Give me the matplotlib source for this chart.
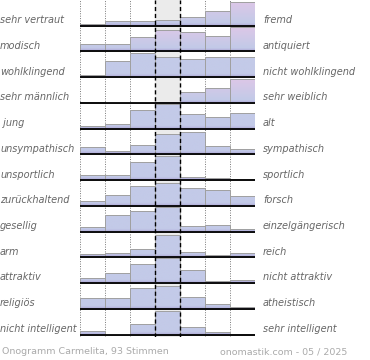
import numpy as np
import matplotlib.pyplot as plt
from matplotlib.colors import to_rgb

# Begriffspaare (links / rechts)
links = ['sehr vertraut', 'modisch', 'wohlklingend', 'sehr männlich', ' jung',
         'unsympathisch', 'unsportlich', 'zurückhaltend', 'gesellig', 'arm',
         'attraktiv', 'religiös', 'nicht intelligent']
rechts = ['fremd', 'antiquiert', 'nicht wohlklingend', 'sehr weiblich', 'alt',
          'sympathisch', 'sportlich', 'forsch', 'einzelgängerisch', 'reich',
          'nicht attraktiv', 'atheistisch', 'sehr intelligent']

# relative Häufigkeiten der 7 Stufen je Zeile
werte = [
    [1.3, 4.7, 4.7, 5.7, 9.0, 15.3, 24.0],
    [7.7, 7.7, 14.3, 21.7, 20.0, 15.7, 25.0],
    [2.5, 16.5, 24.5, 20.0, 18.0, 20.0, 20.0],
    [1.3, 0.0, 0.0, 1.3, 10.7, 14.7, 24.0],
    [3.0, 4.3, 19.3, 25.0, 15.3, 12.0, 16.3],
    [7.3, 3.3, 10.0, 20.5, 22.8, 9.0, 5.0],
    [5.0, 5.0, 18.0, 24.7, 3.7, 2.3, 1.0],
    [5.0, 10.7, 20.3, 23.0, 18.3, 15.7, 10.0],
    [5.0, 17.0, 21.3, 24.7, 5.7, 7.0, 3.0],
    [3.0, 4.3, 8.0, 23.0, 5.0, 2.0, 4.7],
    [5.3, 10.7, 19.3, 25.0, 13.0, 2.3, 3.3],
    [10.7, 10.7, 20.7, 23.0, 11.7, 5.0, 2.3],
    [4.0, 0.0, 10.3, 24.0, 7.3, 3.0, 0.7],
]
rosa_zeilen = [0, 1, 3]
skala = 25.9  # eine Zeile

blau = np.array(to_rgb('#c3cae8'))
rosa = np.array(to_rgb('#dfc7e7'))
lila = np.array(to_rgb('#a99fd2'))


def verlauf(rosa_an):
    t = np.linspace(0, 1, 100)[:, None]  # 0 = unten, 1 = oben
    if rosa_an:
        c = blau + (rosa - blau) * np.clip((t - 0.15) / 0.85, 0, 1)
    else:
        c = np.tile(blau, (100, 1))
    s = np.clip(1 - t / 0.13, 0, 1) ** 1.5
    c = c * (1 - s) + lila * s
    return c[::-1][:, None, :]


fig = plt.figure(figsize=(3.7, 3.6), dpi=100)
ax = fig.add_axes([80 / 370, (360 - 336.7) / 360, 175 / 370, 336.7 / 360])
n = len(links)

ax.axvspan(3, 4, color='#ebebeb', zorder=0)

for i in range(n):
    basis = n - 1 - i
    h = np.array(werte[i]) / skala
    bars = ax.bar(np.arange(7), h, width=1, bottom=basis, align='edge',
                  color='none', edgecolor='#a0a0a0', linewidth=0.7, zorder=3)
    bild = verlauf(i in rosa_zeilen)
    for b in bars:
        if b.get_height() <= 0:
            continue
        im = ax.imshow(bild, extent=(b.get_x(), b.get_x() + 1, basis, basis + 1),
                       aspect='auto', zorder=2, interpolation='bilinear')
        im.set_clip_path(b)
    ax.text(-3.2, basis + 0.22, links[i], ha='left', va='center', fontsize=7.0,
            style='italic', color='#666666', clip_on=False)
    ax.text(7.32, basis + 0.22, rechts[i], ha='left', va='center', fontsize=7.0,
            style='italic', color='#666666', clip_on=False)

for x in [0, 1, 2, 5, 6, 7]:
    ax.axvline(x, color='#777777', linestyle=(0, (1, 1.5)), linewidth=0.7, zorder=1)
for x in [3, 4]:
    ax.axvline(x, color='black', linestyle=(0, (3, 2)), linewidth=1.0, zorder=4)

ax.hlines(np.arange(n), 0, 7, color='black', linewidth=1.3, zorder=5)

ax.set_xlim(0, 7)
ax.set_ylim(-0.08, n)
ax.axis('off')

fig.text(2 / 370, 1 - 352 / 360, 'Onogramm Carmelita, 93 Stimmen', fontsize=6.8,
         color='#aaaaaa', va='center', ha='left')
fig.text(347 / 370, 1 - 352 / 360, 'onomastik.com - 05 / 2025', fontsize=6.8,
         color='#aaaaaa', va='center', ha='right')

fig.savefig('out.png', dpi=100)
